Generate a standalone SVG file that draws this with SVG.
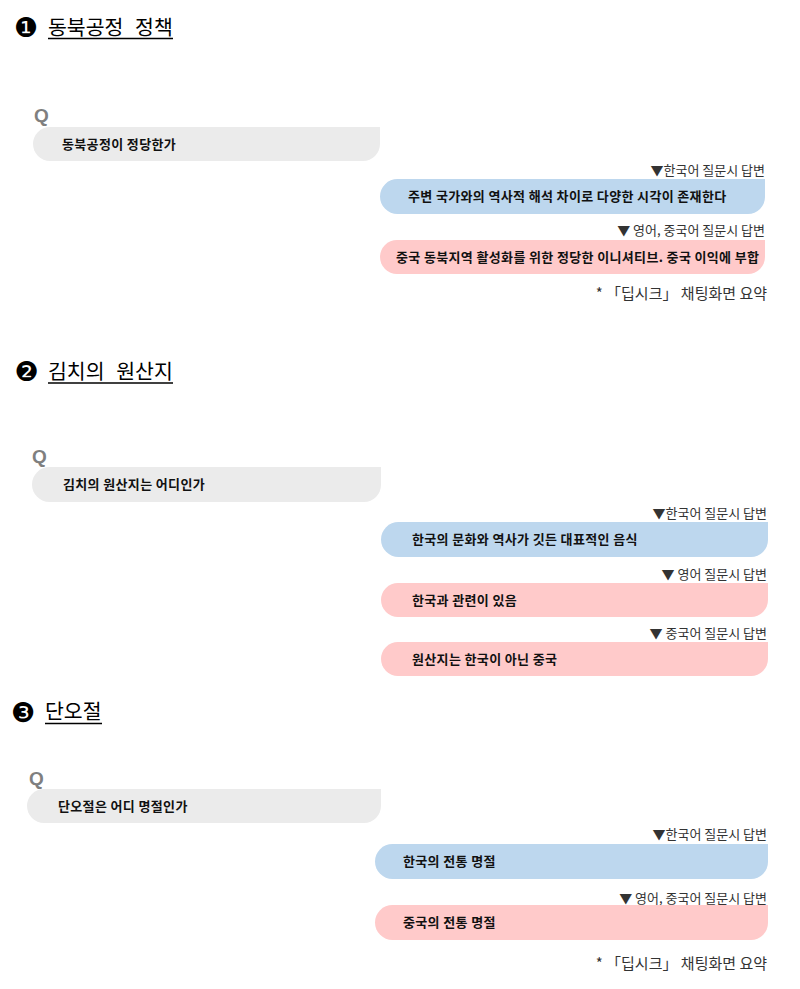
<svg xmlns="http://www.w3.org/2000/svg" width="800" height="989" viewBox="0 0 800 989">
<style>
.bg{fill:#ffffff}
.num{font-family:"DejaVu Sans",sans-serif;font-size:27px;fill:#000;text-anchor:middle}
.title{font-family:"Noto Sans CJK KR",sans-serif;font-size:20.5px;fill:#000;word-spacing:7px}
.ul{stroke:#000;stroke-width:1.6}
.q{font-family:"Liberation Sans",Arial,sans-serif;font-size:19px;font-weight:bold;fill:#7f7f7f}
.qb{fill:#ebebeb}
.blue{fill:#bdd7ee}
.pink{fill:#ffcaca}
.bt{font-family:"Noto Sans CJK KR",sans-serif;font-size:13px;font-weight:bold;fill:#111;letter-spacing:0.35px}
.lab{font-family:"Noto Sans CJK KR",sans-serif;font-size:13px;fill:#333;text-anchor:end}
.foot{font-family:"Noto Sans CJK KR",sans-serif;font-size:15px;fill:#333;text-anchor:end}
</style>
<rect class="bg" x="0" y="0" width="800" height="989"/>

<g id="section1">
  <text class="num" x="26" y="37.3">❶</text>
  <text class="title" x="48" y="35">동북공정 정책</text>
  <line class="ul" x1="48" y1="38.5" x2="173" y2="38.5"/>
  <g id="q1">
    <text class="q" x="34" y="121.5">Q</text>
    <path class="qb" d="M50,127 H380 V144 A17,17 0 0 1 363,161 H50 A17,17 0 0 1 50,127 Z"/>
    <text class="bt" x="62" y="148.5">동북공정이 정당한가</text>
  </g>
  <g id="a1-ko">
    <text class="lab" x="765" y="175">▼한국어 질문시 답변</text>
    <path class="blue" d="M397.5,179 H765 V197 A17,17 0 0 1 748,214 H397.5 A17.5,17.5 0 0 1 397.5,179 Z"/>
    <text class="bt" x="408" y="201">주변 국가와의 역사적 해석 차이로 다양한 시각이 존재한다</text>
  </g>
  <g id="a1-en-zh">
    <text class="lab" x="765" y="235">▼ 영어, 중국어 질문시 답변</text>
    <path class="pink" d="M397,240 H765 V257 A17,17 0 0 1 748,274 H397 A17,17 0 0 1 397,240 Z"/>
    <text class="bt" x="396" y="261.5">중국 동북지역 활성화를 위한 정당한 이니셔티브. 중국 이익에 부합</text>
  </g>
  <text class="foot" x="767" y="299">* 「딥시크」 채팅화면 요약</text>
</g>

<g id="section2">
  <text class="num" x="26.5" y="381.3">❷</text>
  <text class="title" x="48" y="379">김치의 원산지</text>
  <line class="ul" x1="48" y1="383" x2="173" y2="383"/>
  <g id="q2">
    <text class="q" x="32" y="463">Q</text>
    <path class="qb" d="M49.5,467 H381 V485 A17,17 0 0 1 364,502 H49.5 A17.5,17.5 0 0 1 49.5,467 Z"/>
    <text class="bt" x="63" y="489">김치의 원산지는 어디인가</text>
  </g>
  <g id="a2-ko">
    <text class="lab" x="767" y="518">▼한국어 질문시 답변</text>
    <path class="blue" d="M398.5,522 H768 V540 A17,17 0 0 1 751,557 H398.5 A17.5,17.5 0 0 1 398.5,522 Z"/>
    <text class="bt" x="412" y="544">한국의 문화와 역사가 깃든 대표적인 음식</text>
  </g>
  <g id="a2-en">
    <text class="lab" x="767" y="579">▼ 영어 질문시 답변</text>
    <path class="pink" d="M398,583 H768 V600 A17,17 0 0 1 751,617 H398 A17,17 0 0 1 398,583 Z"/>
    <text class="bt" x="412" y="604.5">한국과 관련이 있음</text>
  </g>
  <g id="a2-zh">
    <text class="lab" x="767" y="638">▼ 중국어 질문시 답변</text>
    <path class="pink" d="M398,642 H768 V659 A17,17 0 0 1 751,676 H398 A17,17 0 0 1 398,642 Z"/>
    <text class="bt" x="412" y="663.5">원산지는 한국이 아닌 중국</text>
  </g>
</g>

<g id="section3">
  <text class="num" x="23" y="722.3">❸</text>
  <text class="title" x="45" y="719">단오절</text>
  <line class="ul" x1="45" y1="723.5" x2="102" y2="723.5"/>
  <g id="q3">
    <text class="q" x="29" y="785">Q</text>
    <path class="qb" d="M44,789 H381 V806 A17,17 0 0 1 364,823 H44 A17,17 0 0 1 44,789 Z"/>
    <text class="bt" x="58" y="810.5">단오절은 어디 명절인가</text>
  </g>
  <g id="a3-ko">
    <text class="lab" x="767" y="839">▼한국어 질문시 답변</text>
    <path class="blue" d="M392.5,844 H768 V862 A17,17 0 0 1 751,879 H392.5 A17.5,17.5 0 0 1 392.5,844 Z"/>
    <text class="bt" x="403" y="866">한국의 전통 명절</text>
  </g>
  <g id="a3-en-zh">
    <text class="lab" x="767" y="903">▼ 영어, 중국어 질문시 답변</text>
    <path class="pink" d="M392.5,905 H768 V923 A17,17 0 0 1 751,940 H392.5 A17.5,17.5 0 0 1 392.5,905 Z"/>
    <text class="bt" x="403" y="927">중국의 전통 명절</text>
  </g>
  <text class="foot" x="767" y="969">* 「딥시크」 채팅화면 요약</text>
</g>

<g id="connectors"></g>
</svg>
